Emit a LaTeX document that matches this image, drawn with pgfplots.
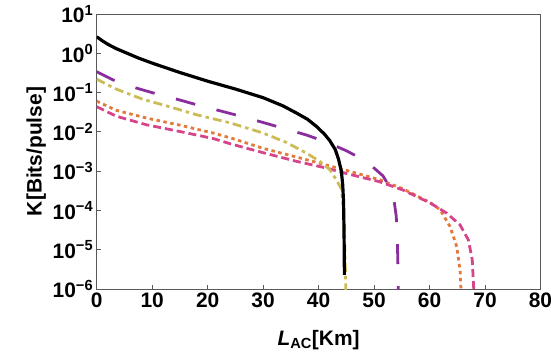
\documentclass[border=0pt]{standalone}
\usepackage{fontspec}
\setmainfont{Liberation Sans}
\usepackage{pgfplots}
\pgfplotsset{compat=1.18}
\definecolor{cpurple}{RGB}{138,46,158}
\definecolor{cyellow}{RGB}{204,188,88}
\definecolor{corange}{RGB}{227,121,59}
\definecolor{cpink}{RGB}{214,68,138}
\begin{document}
\begin{tikzpicture}
\begin{axis}[
  at={(0,0)}, anchor=south west,
  scale only axis, width=443.8bp, height=275bp,
  xmin=0, xmax=80, ymin=1e-6, ymax=10, ymode=log,
  xtick={0,10,20,30,40,50,60,70,80},
  xticklabels={0,10,20,30,40,50,60,70,80},
  ytick={1e-6,1e-5,1e-4,1e-3,1e-2,1e-1,1,10},
  yticklabels={10\textsuperscript{−6},10\textsuperscript{−5},10\textsuperscript{−4},10\textsuperscript{−3},10\textsuperscript{−2},10\textsuperscript{−1},10\textsuperscript{0},10\textsuperscript{1}},
  yminorticks=false, xminorticks=false,
  tick align=inside, xtick pos=bottom, ytick pos=left,
  major tick length=4bp,
  tick style={gray!70!black, line width=0.8pt},
  axis line style={gray!70!black, line width=0.8pt},
  ticklabel style={font=\fontsize{21}{25}\selectfont\bfseries},
  label style={font=\fontsize{21}{25}\selectfont\bfseries},
  xlabel={\textit{L}\textsubscript{AC}[Km]},
  xlabel style={yshift=-16bp},
  ylabel={K[Bits/pulse]},
  clip=true,
]
% orange dotted
\addplot[corange, line width=2.8pt, line cap=butt, dash pattern=on 3.5bp off 3.5bp] coordinates {
(0,0.0603) (3.5,0.0355) (9,0.0224) (15,0.0148) (21,0.00933) (24.5,0.00676) (30,0.00380) (36,0.00229) (41,0.00148) (45,0.00105) (51,6.03e-4) (55.2,3.55e-4) (60.1,1.585e-4) (61.9,1.047e-4) (63.7,3.89e-5) (64.9,1.20e-5) (65.5,3.02e-6) (65.7,7.94e-7)
};
% pink dashed
\addplot[cpink, line width=2.8pt, line cap=butt, dash pattern=on 8bp off 4bp] coordinates {
(0,0.0437) (3.5,0.0251) (9,0.0151) (15,0.0102) (21,0.00676) (24,0.00501) (30,0.00295) (36,0.00178) (41.4,0.00120) (45,8.71e-4) (51,5.37e-4) (55.2,3.31e-4) (60.1,1.55e-4) (63.1,8.51e-5) (65.5,4.27e-5) (67.0,1.78e-5) (67.7,5.50e-6) (68.0,7.94e-7)
};
% yellow dash-dot
\addplot[cyellow, line width=2.8pt, line cap=butt, dash pattern=on 9bp off 4bp on 3.5bp off 4bp] coordinates {
(0,0.219) (3.5,0.123) (8.3,0.0676) (13.1,0.0437) (17.9,0.0275) (24,0.0170) (30,0.00933) (34.2,0.00537) (37.8,0.00288) (40.2,0.00178) (42.0,0.00110) (43.2,6.03e-4) (44.1,3.55e-4) (44.45,1.26e-4) (44.7,1.585e-5) (44.85,2.51e-6) (44.92,7.94e-7)
};
% purple long dashed
\addplot[cpurple, line width=2.8pt, line cap=butt, dash pattern=on 20bp off 22bp] coordinates {
(0,0.339) (3,0.209) (7,0.132) (10.7,0.0933) (15,0.0646) (18.5,0.0468) (22.4,0.0339) (26.4,0.0240) (30.2,0.0170) (33.9,0.0120) (37.8,0.00832) (41.4,0.00550) (45,0.00331) (48.6,0.00178) (51.6,7.59e-4) (53.0,3.55e-4) (53.6,1.78e-4) (54.0,7.08e-5) (54.2,1.585e-5) (54.3,3.98e-6) (54.37,7.94e-7)
};
% black solid
\addplot[black, line width=3.2pt] coordinates {
(0,2.63) (1,2.089) (2,1.698) (3.5,1.318) (5,1.072) (7.5,0.759) (10,0.562) (15,0.324) (20,0.195) (25,0.123) (30,0.0741) (33.6,0.0457) (36,0.0302) (38,0.0209) (39.6,0.0138) (41,0.00891) (42,0.00603) (43,0.00355) (43.6,0.00200) (44.1,0.001) (44.35,4.47e-4) (44.5,1.585e-4) (44.58,3.16e-5) (44.63,6.31e-6) (44.65,2.29e-6)
};
\end{axis}
\pgfresetboundingbox
\useasboundingbox (-96.7bp,-71bp) rectangle (454.3bp,289bp);
\end{tikzpicture}
\end{document}
